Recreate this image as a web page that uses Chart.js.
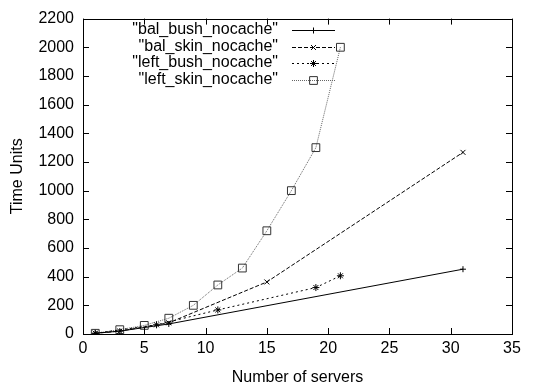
<!DOCTYPE html>
<html>
<head>
<meta charset="utf-8">
<script src="https://cdn.jsdelivr.net/npm/chart.js@4/dist/chart.umd.min.js"></script>
<style>
html,body{margin:0;padding:0;background:#fff;}
#wrap{width:549px;height:389px;}
</style>
</head>
<body>
<div id="wrap"><canvas id="c" width="549" height="389"></canvas></div>
<script>
const seriesNames = ['"bal_bush_nocache"', '"bal_skin_nocache"', '"left_bush_nocache"', '"left_skin_nocache"'];
const balBushX = [1, 3, 7, 31];
const balBushY = [5, 20, 70, 452];
const balSkinX = [1, 3, 7, 15, 31];
const balSkinY = [5, 20, 78, 363, 1267];
const leftBushX = [1, 6, 11, 19, 21];
const leftBushY = [5, 64, 168, 324, 406];
const leftSkinX = [1, 3, 5, 7, 9, 11, 13, 15, 17, 19, 21];
const leftSkinY = [5, 30, 60, 110, 200, 342, 460, 720, 1000, 1300, 2000];
const xTicks = [0, 5, 10, 15, 20, 25, 30, 35];
const yTicks = [0, 200, 400, 600, 800, 1000, 1200, 1400, 1600, 1800, 2000, 2200];

const FONT = '"Liberation Sans", Arial, Helvetica, sans-serif';
const FS = 16;
const pts = (xs, ys) => xs.map((x, i) => ({x: x, y: ys[i]}));

const styles = [
  {color: '#000', dash: [], point: 'cross', r: 3},
  {color: '#000', dash: [4, 2], point: 'crossRot', r: 3.5},
  {color: '#000', dash: [2, 3], point: 'star', r: 3.5},
  {color: '#666', dash: [1, 1], point: 'rect', r: 5.5}
];
const dataSets = [pts(balBushX, balBushY), pts(balSkinX, balSkinY), pts(leftBushX, leftBushY), pts(leftSkinX, leftSkinY)];

const datasets = dataSets.map((d, i) => ({
  label: seriesNames[i],
  data: d,
  showLine: true,
  borderColor: styles[i].color,
  borderWidth: 1,
  borderDash: styles[i].dash,
  pointStyle: styles[i].point,
  pointRadius: styles[i].r,
  pointBorderColor: i === 3 ? '#333' : '#000',
  pointBackgroundColor: 'rgba(0,0,0,0)',
  pointBorderWidth: 1,
  tension: 0
}));

function drawMarker(ctx, style, x, y, r, color) {
  ctx.save();
  ctx.setLineDash([]);
  ctx.strokeStyle = color;
  ctx.lineWidth = 1;
  ctx.beginPath();
  if (style === 'cross' || style === 'star') {
    ctx.moveTo(x - r, y); ctx.lineTo(x + r, y);
    ctx.moveTo(x, y - r); ctx.lineTo(x, y + r);
  }
  if (style === 'crossRot' || style === 'star') {
    const d = r * Math.SQRT1_2;
    ctx.moveTo(x - d, y - d); ctx.lineTo(x + d, y + d);
    ctx.moveTo(x + d, y - d); ctx.lineTo(x - d, y + d);
  }
  if (style === 'rect') {
    const s = r * Math.SQRT1_2;
    ctx.rect(x - s, y - s, 2 * s, 2 * s);
  }
  ctx.stroke();
  ctx.restore();
}

const framePlugin = {
  id: 'frame',
  afterDraw(chart) {
    const {ctx, chartArea: a, scales} = chart;
    ctx.save();
    ctx.strokeStyle = '#000';
    ctx.lineWidth = 1;
    ctx.setLineDash([]);
    ctx.beginPath();
    const L = 6;
    scales.x.ticks.forEach(t => {
      const px = Math.round(scales.x.getPixelForValue(t.value)) + 0.5;
      ctx.moveTo(px, a.bottom); ctx.lineTo(px, a.bottom - L);
      ctx.moveTo(px, a.top); ctx.lineTo(px, a.top + L);
    });
    scales.y.ticks.forEach(t => {
      const py = Math.round(scales.y.getPixelForValue(t.value)) + 0.5;
      ctx.moveTo(a.left, py); ctx.lineTo(a.left + L, py);
      ctx.moveTo(a.right, py); ctx.lineTo(a.right - L, py);
    });
    ctx.stroke();
    ctx.strokeRect(Math.round(a.left) + 0.5, Math.round(a.top) + 0.5, Math.round(a.right - a.left), Math.round(a.bottom - a.top));
    // legend
    ctx.font = FS + 'px ' + FONT;
    ctx.fillStyle = '#000';
    ctx.textAlign = 'right';
    ctx.textBaseline = 'middle';
    const rowY = [30, 46.5, 63, 79.5];
    chart.data.datasets.forEach((ds, i) => {
      const y = rowY[i];
      ctx.fillText(ds.label, 278, y);
      ctx.save();
      ctx.strokeStyle = ds.borderColor;
      ctx.lineWidth = 1;
      ctx.setLineDash(ds.borderDash);
      ctx.beginPath();
      ctx.moveTo(292, Math.round(y) + 0.5);
      ctx.lineTo(335, Math.round(y) + 0.5);
      ctx.stroke();
      ctx.restore();
      drawMarker(ctx, ds.pointStyle, 313.5, Math.round(y) + 0.5, ds.pointRadius, ds.pointBorderColor);
    });
    ctx.restore();
  }
};

new Chart(document.getElementById('c'), {
  type: 'scatter',
  data: {datasets: datasets},
  plugins: [framePlugin],
  options: {
    responsive: false,
    animation: false,
    layout: {padding: {left: 0, right: 37, top: 15, bottom: 0}},
    plugins: {legend: {display: false}, tooltip: {enabled: false}},
    scales: {
      x: {
        type: 'linear', min: 0, max: 35,
        afterBuildTicks(s) { s.ticks = xTicks.map(v => ({value: v})); },
        afterFit(s) { s.height = 55; },
        grid: {display: false, drawTicks: false},
        border: {display: false},
        ticks: {color: '#000', font: {family: FONT, size: FS}, padding: 5, maxRotation: 0, callback: v => String(v)},
        title: {display: true, text: 'Number of servers', color: '#000', font: {family: FONT, size: FS}, padding: {top: 0, bottom: 2}}
      },
      y: {
        type: 'linear', min: 0, max: 2200,
        afterBuildTicks(s) { s.ticks = yTicks.map(v => ({value: v})); },
        afterFit(s) { s.width = 83; },
        grid: {display: false, drawTicks: false},
        border: {display: false},
        ticks: {color: '#000', font: {family: FONT, size: FS}, padding: 9, callback: v => String(v)},
        title: {display: true, text: 'Time Units', color: '#000', font: {family: FONT, size: FS}, padding: {top: 8, bottom: 0}}
      }
    }
  }
});
</script>
</body>
</html>
